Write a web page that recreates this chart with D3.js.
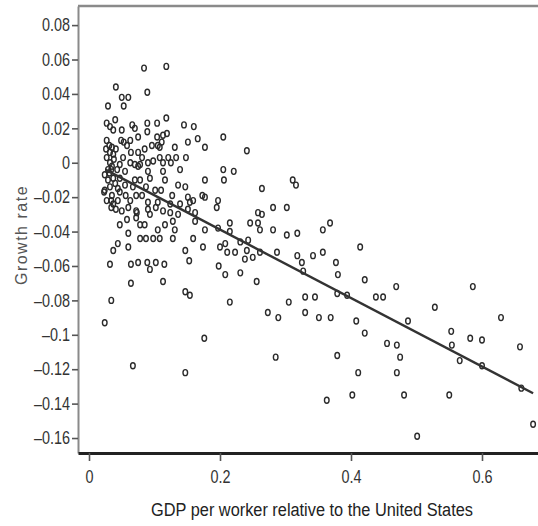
<!DOCTYPE html>
<html>
<head>
<meta charset="utf-8">
<script src="https://cdn.jsdelivr.net/npm/d3@7"></script>
<style>
  body { margin: 0; background: #fff; }
  .narrow { font-family: "Liberation Sans", Arial, sans-serif; }
</style>
</head>
<body>
<div id="chart"></div>
<script>
// GDP per worker relative to the US (x) and growth rate (y)
const gdp = [
  0.084,0.118,0.041,0.089,0.050,0.060,0.029,0.053,0.118,0.089,
  0.104,0.145,0.160,0.027,0.032,0.040,0.066,0.070,0.037,0.075,
  0.053,0.089,0.104,0.113,0.119,0.111,0.151,0.166,0.177,0.205,
  0.241,0.049,0.105,0.064,0.075,0.085,0.037,0.108,0.121,0.133,
  0.148,0.052,0.027,0.096,0.032,0.029,0.063,0.070,0.078,0.090,
  0.098,0.113,0.125,0.075,0.090,0.113,0.034,0.037,0.047,0.205,
  0.221,0.311,0.206,0.177,0.070,0.078,0.032,0.024,0.067,0.087,
  0.101,0.110,0.147,0.264,0.316,0.023,0.047,0.056,0.072,0.173,
  0.177,0.151,0.159,0.154,0.034,0.063,0.090,0.105,0.124,0.034,
  0.041,0.060,0.072,0.090,0.102,0.124,0.151,0.162,0.195,0.197,
  0.281,0.302,0.258,0.264,0.050,0.073,0.113,0.058,0.072,0.085,
  0.128,0.131,0.162,0.177,0.197,0.215,0.215,0.246,0.258,0.261,
  0.281,0.302,0.318,0.368,0.357,0.060,0.078,0.087,0.098,0.105,
  0.108,0.128,0.159,0.044,0.037,0.060,0.147,0.174,0.200,0.208,
  0.211,0.223,0.231,0.243,0.241,0.250,0.261,0.287,0.318,0.342,
  0.357,0.414,0.153,0.238,0.032,0.064,0.075,0.093,0.089,0.102,
  0.115,0.198,0.208,0.231,0.325,0.377,0.380,0.327,0.421,0.064,
  0.113,0.256,0.147,0.154,0.034,0.215,0.305,0.330,0.345,0.379,
  0.394,0.438,0.449,0.469,0.586,0.273,0.289,0.330,0.351,0.369,
  0.408,0.421,0.024,0.176,0.528,0.487,0.629,0.553,0.582,0.455,
  0.470,0.600,0.658,0.554,0.475,0.470,0.481,0.501,0.566,0.550,
  0.600,0.660,0.678,0.147,0.285,0.379,0.411,0.363,0.402,0.067,
  0.031,0.035,0.032,0.038,0.035,0.031,0.040,0.035,0.043,0.044,
  0.029,0.037,0.041,0.047,0.055,0.044,0.058,0.081,0.093,0.116,
  0.127,0.136,0.139,0.081,0.055,0.108,0.131,0.139,0.116,0.093,
  0.078,0.047,0.136,0.050,0.063,0.027,0.026,0.024,0.027
];
const growth = [
  0.055,0.056,0.044,0.041,0.038,0.038,0.033,0.033,0.026,0.023,
  0.023,0.022,0.021,0.023,0.021,0.025,0.022,0.020,0.019,0.015,
  0.012,0.018,0.015,0.016,0.017,0.012,0.012,0.014,0.009,0.015,
  0.007,0.013,0.010,0.006,0.006,0.008,0.005,0.003,0.003,0.003,
  0.003,0.003,0.003,0.010,0.000,-0.004,0.000,-0.001,-0.001,0.000,
  0.001,0.000,0.000,-0.002,-0.005,-0.005,-0.004,-0.009,-0.009,-0.004,
  -0.005,-0.010,-0.010,-0.010,-0.010,-0.010,-0.014,-0.016,-0.014,-0.014,
  -0.016,-0.016,-0.014,-0.015,-0.013,-0.017,-0.017,-0.019,-0.019,-0.019,
  -0.020,-0.020,-0.022,-0.023,-0.022,-0.022,-0.023,-0.023,-0.024,-0.026,
  -0.027,-0.026,-0.028,-0.027,-0.026,-0.029,-0.027,-0.029,-0.026,-0.022,
  -0.026,-0.026,-0.029,-0.030,-0.028,-0.029,-0.028,-0.033,-0.032,-0.036,
  -0.034,-0.039,-0.034,-0.039,-0.038,-0.035,-0.040,-0.035,-0.035,-0.039,
  -0.039,-0.042,-0.041,-0.035,-0.039,-0.041,-0.044,-0.044,-0.044,-0.039,
  -0.044,-0.044,-0.044,-0.047,-0.051,-0.049,-0.051,-0.049,-0.049,-0.047,
  -0.052,-0.052,-0.046,-0.045,-0.051,-0.055,-0.052,-0.052,-0.054,-0.054,
  -0.052,-0.049,-0.057,-0.056,-0.059,-0.059,-0.058,-0.062,-0.058,-0.058,
  -0.059,-0.060,-0.065,-0.064,-0.058,-0.058,-0.065,-0.063,-0.068,-0.070,
  -0.069,-0.069,-0.075,-0.077,-0.080,-0.081,-0.081,-0.078,-0.078,-0.076,
  -0.077,-0.078,-0.078,-0.072,-0.072,-0.087,-0.090,-0.087,-0.090,-0.090,
  -0.092,-0.099,-0.093,-0.102,-0.084,-0.092,-0.090,-0.098,-0.102,-0.105,
  -0.106,-0.103,-0.107,-0.106,-0.113,-0.122,-0.135,-0.159,-0.115,-0.135,
  -0.118,-0.131,-0.152,-0.122,-0.113,-0.112,-0.122,-0.138,-0.135,-0.118,
  0.010,0.009,0.006,0.002,-0.002,-0.006,-0.012,-0.019,-0.004,-0.015,
  -0.010,-0.024,0.008,-0.001,-0.005,-0.022,0.010,0.003,-0.009,-0.010,
  -0.019,-0.013,-0.004,-0.019,-0.013,0.009,0.009,-0.024,-0.036,-0.030,
  -0.036,-0.036,-0.030,0.019,0.013,0.013,0.008,-0.007,-0.022
];

// fitted regression line, two end points as drawn
const fitX = [0.025, 0.678];
const fitY = [-0.004, -0.134];

const xTicks = [0, 0.2, 0.4, 0.6];
const yTicks = [0.08, 0.06, 0.04, 0.02, 0, -0.02, -0.04, -0.06, -0.08, -0.1, -0.12, -0.14, -0.16];

const width = 538;
const height = 526;
const plotLeft = 78, plotRight = 538, plotTop = 6, plotBottom = 453;
const squeeze = 0.8; // no condensed font installed, so narrow the glyphs

const svg = d3.select("#chart")
  .append("svg")
  .attr("width", width)
  .attr("height", height);

const x = d3.scaleLinear().domain([-0.0168, 0.6855]).range([plotLeft, plotRight]);
const y = d3.scaleLinear().domain([0.0911, -0.1687]).range([plotTop, plotBottom]);

const fmt = d => d === 0 ? "0" : (d < 0 ? "\u2013" : "") + String(+Math.abs(d).toFixed(2));

// top border
svg.append("line")
  .attr("x1", plotLeft).attr("x2", plotRight)
  .attr("y1", plotTop).attr("y2", plotTop)
  .attr("stroke", "#8a8a8a")
  .attr("stroke-width", 2.5);

// y axis
const yAxis = svg.append("g")
  .attr("transform", `translate(${plotLeft},0)`)
  .call(d3.axisLeft(y).tickValues(yTicks).tickSize(6).tickSizeOuter(0).tickPadding(2).tickFormat(fmt));
yAxis.select(".domain").attr("stroke", "#8a8a8a").attr("stroke-width", 2);
yAxis.selectAll(".tick line").attr("stroke", "#555").attr("stroke-width", 1.6);
yAxis.selectAll(".tick text")
  .attr("class", "narrow")
  .attr("font-size", 18)
  .attr("fill", "#333")
  .attr("x", -8 / squeeze)
  .attr("transform", `scale(${squeeze},1)`);

// x axis
const xAxis = svg.append("g")
  .attr("transform", `translate(0,${plotBottom})`)
  .call(d3.axisBottom(x).tickValues(xTicks).tickSize(8).tickSizeOuter(0).tickPadding(9).tickFormat(fmt));
xAxis.select(".domain").attr("stroke", "#222").attr("stroke-width", 3);
xAxis.selectAll(".tick line").attr("stroke", "#555").attr("stroke-width", 1.6);
xAxis.selectAll(".tick text")
  .attr("class", "narrow")
  .attr("font-size", 18)
  .attr("fill", "#333")
  .attr("transform", `scale(${squeeze},1)`);

// points
const points = d3.zip(gdp, growth);
svg.append("g")
  .selectAll("ellipse")
  .data(points)
  .join("ellipse")
  .attr("cx", d => x(d[0]))
  .attr("cy", d => y(d[1]))
  .attr("rx", 2.3)
  .attr("ry", 3)
  .attr("fill", "none")
  .attr("stroke", "#2a2a2a")
  .attr("stroke-width", 1.4);

// regression line
svg.append("path")
  .datum(d3.zip(fitX, fitY))
  .attr("d", d3.line().x(d => x(d[0])).y(d => y(d[1])))
  .attr("stroke", "#333")
  .attr("stroke-width", 2.4)
  .attr("fill", "none");

// axis titles
svg.append("text")
  .attr("class", "narrow")
  .attr("transform", "translate(312,516) scale(0.86,1)")
  .attr("text-anchor", "middle")
  .attr("font-size", 19)
  .attr("fill", "#222")
  .text("GDP per worker relative to the United States");

svg.append("text")
  .attr("transform", "translate(27,235) rotate(-90)")
  .attr("text-anchor", "middle")
  .attr("font-family", "Liberation Sans, Arial, sans-serif")
  .attr("font-size", 16)
  .attr("letter-spacing", 1.5)
  .attr("fill", "#555")
  .text("Growth rate");
</script>
</body>
</html>
